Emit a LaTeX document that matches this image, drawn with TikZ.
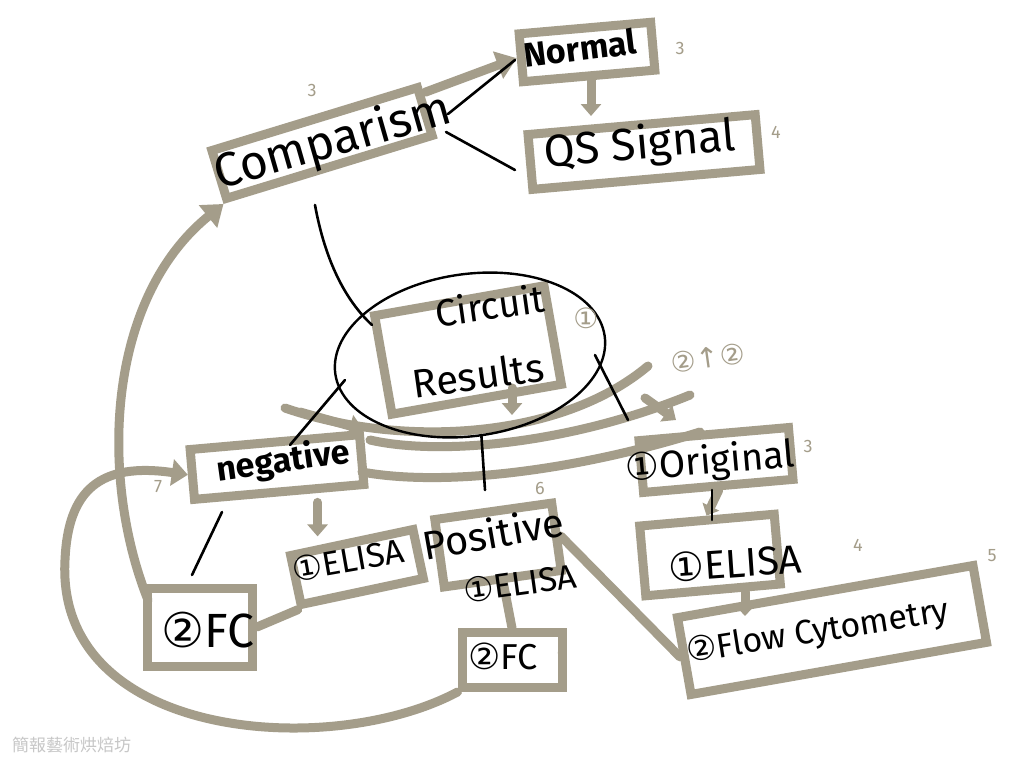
\documentclass[tikz,border=0pt]{standalone}
\usepackage{fontspec}
\setmainfont{Fira Sans}
\newfontfamily\symf{DejaVu Sans}
\newfontfamily\cjk{Noto Sans CJK TC}
\usetikzlibrary{arrows.meta,shapes.geometric}
\definecolor{taupe}{HTML}{A49D8A}
\tikzset{
  tbox/.style={draw=taupe, line width=9pt, transform shape, inner sep=0pt},
  hand/.style={text=black, transform shape, inner sep=0pt},
  tnum/.style={text=taupe, transform shape, inner sep=0pt, font=\fontsize{18}{18}\selectfont},
  tline/.style={draw=taupe, line width=9pt, line cap=round},
  tarrow/.style={tline, -{Triangle[length=20pt,width=28pt]}},
  bline/.style={draw=black, line width=2.6pt, line cap=round},
}
\newcommand{\cn}[1]{{\symf #1}}
\begin{document}
\begin{tikzpicture}[x=1pt,y=-1pt]
\useasboundingbox (0,0) rectangle (1024,768);
\fill[white] (0,0) rectangle (1024,768);

% ---------- taupe boxes ----------
\node[tbox, rotate=17, minimum width=215pt, minimum height=50pt] (compbox) at (322,143) {};
\node[tbox, rotate=5, minimum width=132pt, minimum height=48pt] (normbox) at (587,52) {};
\node[tbox, rotate=5, minimum width=228pt, minimum height=55pt] (qsbox) at (644,152) {};
\node[tbox, rotate=10, minimum width=172pt, minimum height=100pt] (circbox) at (468,350) {};
\node[tbox, rotate=5, minimum width=170pt, minimum height=50pt] (negbox) at (277,467) {};
\node[tbox, rotate=12, minimum width=125pt, minimum height=50pt] (elnbox) at (357,567) {};
\node[tbox, rotate=0, minimum width=105pt, minimum height=78pt] (fcnbox) at (200,627) {};
\node[tbox, rotate=8, minimum width=118pt, minimum height=68pt] (posbox) at (498,545) {};
\node[tbox, rotate=0, minimum width=100pt, minimum height=55pt] (fcpbox) at (512,660) {};
\node[tbox, rotate=5, minimum width=150pt, minimum height=52pt] (origbox) at (716,460) {};
\node[tbox, rotate=5, minimum width=135pt, minimum height=70pt] (elobox) at (710,555) {};
\node[tbox, rotate=10, minimum width=300pt, minimum height=78pt] (flowbox) at (832,630) {};

% ---------- taupe connectors ----------
\draw[tarrow] (compbox.east) ++(-4,-18) coordinate (c1) -- (normbox.west);
\coordinate (nq1) at (591,80);
\coordinate (nq2) at (591,116);
\draw[tarrow, -{Triangle[length=12pt,width=20pt]}] (nq1) -- (nq2);
\coordinate (fcnleft) at (148,600);
\draw[tarrow] (fcnleft) .. controls (100,480) and (105,300) .. (compbox.south west);
\draw[tarrow, -{Triangle[length=16pt,width=26pt]}] (fcpbox.south west) .. controls (330,760) and (55,740) .. (65,560)
   .. controls (68,490) and (100,462) .. (negbox.west);
\draw[tarrow, -{Triangle[length=12pt,width=20pt]}] (negbox.south) ++(38,6) -- ++(0,34);
\draw[tline] (elnbox.south west) -- (fcnbox.east);
\draw[tline] (posbox.east) -- (flowbox.west);
\draw[tline] (posbox.south) -- (fcpbox.north);
\draw[tarrow, -{Triangle[length=10pt,width=18pt]}] (origbox.south) -- (elobox.north);
\coordinate (ef1) at (745,592);
\coordinate (ef2) at (745,616);
\draw[tarrow, -{Triangle[length=10pt,width=18pt]}] (ef1) -- (ef2);

% curved bands under the circuit
\draw[tline] (285,408) .. controls (400,448) and (560,440) .. (648,366);
\draw[tline] (370,440) .. controls (440,456) and (570,444) .. (690,395);
\draw[tline] (362,472) .. controls (450,488) and (585,468) .. (700,432);
\draw[tarrow, -{Triangle[length=14pt,width=22pt]}] (300,412) -- (negbox.north east);
\draw[tarrow, -{Triangle[length=12pt,width=20pt]}] (512,388) -- (512,415);
\draw[tarrow, -{Triangle[length=12pt,width=20pt]}] (645,398) -- (676,420);

% ---------- black handwriting ----------
\node[hand, rotate=16, font=\fontsize{48}{48}\selectfont] (comp) at (333,143) {Comparism};
\node[hand, rotate=7, font=\bfseries\fontsize{34}{34}\selectfont] (norm) at (580,48) {Normal};
\node[hand, rotate=5, font=\fontsize{45}{45}\selectfont] (qs) at (640,146) {QS Signal};
\node[hand, rotate=8, font=\fontsize{38}{38}\selectfont] (circ) at (490,305) {Circuit};
\node[hand, rotate=8, font=\fontsize{40}{40}\selectfont] (res) at (478,375) {Results};
\node[draw=black, line width=2.4pt, ellipse, rotate=8, minimum width=272pt, minimum height=162pt] (ell) at (470,355) {};
\node[hand, rotate=8, font=\bfseries\fontsize{34}{34}\selectfont] (neg) at (283,462) {negative};
\node[hand, rotate=10, font=\fontsize{34}{34}\selectfont] (eln) at (348,560) {\cn{①}ELISA};
\node[hand, font=\fontsize{48}{48}\selectfont] (fcn) at (208,630) {\cn{②}FC};
\node[hand, rotate=10, font=\fontsize{40}{40}\selectfont] (pos) at (493,533) {Positive};
\node[hand, rotate=8, font=\fontsize{34}{34}\selectfont] (elp) at (520,583) {\cn{①}ELISA};
\node[hand, font=\fontsize{36}{36}\selectfont] (fcp) at (503,656) {\cn{②}FC};
\node[hand, rotate=5, font=\fontsize{38}{38}\selectfont] (orig) at (710,463) {\cn{①}Original};
\node[hand, rotate=4, font=\fontsize{40}{40}\selectfont] (elo) at (735,563) {\cn{①}ELISA};
\node[hand, rotate=9, font=\fontsize{34}{34}\selectfont] (flow) at (818,633) {\cn{②}Flow Cytometry};

% ---------- black connectors ----------
\draw[bline] (448,114) -- (515,60);
\draw[bline] (446,132) -- (515,170);
\draw[bline] (315,205) .. controls (325,260) and (345,300) .. (372,325);
\draw[bline] (345,380) -- (290,445);
\draw[bline] (ell.south) -- (485,490);
\draw[bline] (595,355) -- (628,420);
\draw[bline] (222,512) -- (192,575);
\draw[bline] (712,490) -- (712,520);

% ---------- small taupe numbers ----------
\node[tnum] (n1) at (312,90) {3};
\node[tnum] (n2) at (680,48) {3};
\node[tnum] (n3) at (776,132) {4};
\node[tnum] (n4) at (158,487) {7};
\node[tnum] (n5) at (540,488) {6};
\node[tnum] (n6) at (808,446) {3};
\node[tnum] (n7) at (858,545) {4};
\node[tnum] (n8) at (992,556) {5};
\node[tnum] (n9) at (562,650) {8};
\node[tnum, font=\symf\fontsize{28}{28}\selectfont] (n10) at (586,318) {①};
\node[tnum, rotate=8, font=\symf\fontsize{28}{28}\selectfont] (n11) at (708,358) {②↑②};

% watermark
\node[text=black!22, inner sep=0pt, anchor=west, font=\cjk\fontsize{17}{17}\selectfont] (wm) at (12,745) {簡報藝術烘焙坊};
\end{tikzpicture}
\end{document}
